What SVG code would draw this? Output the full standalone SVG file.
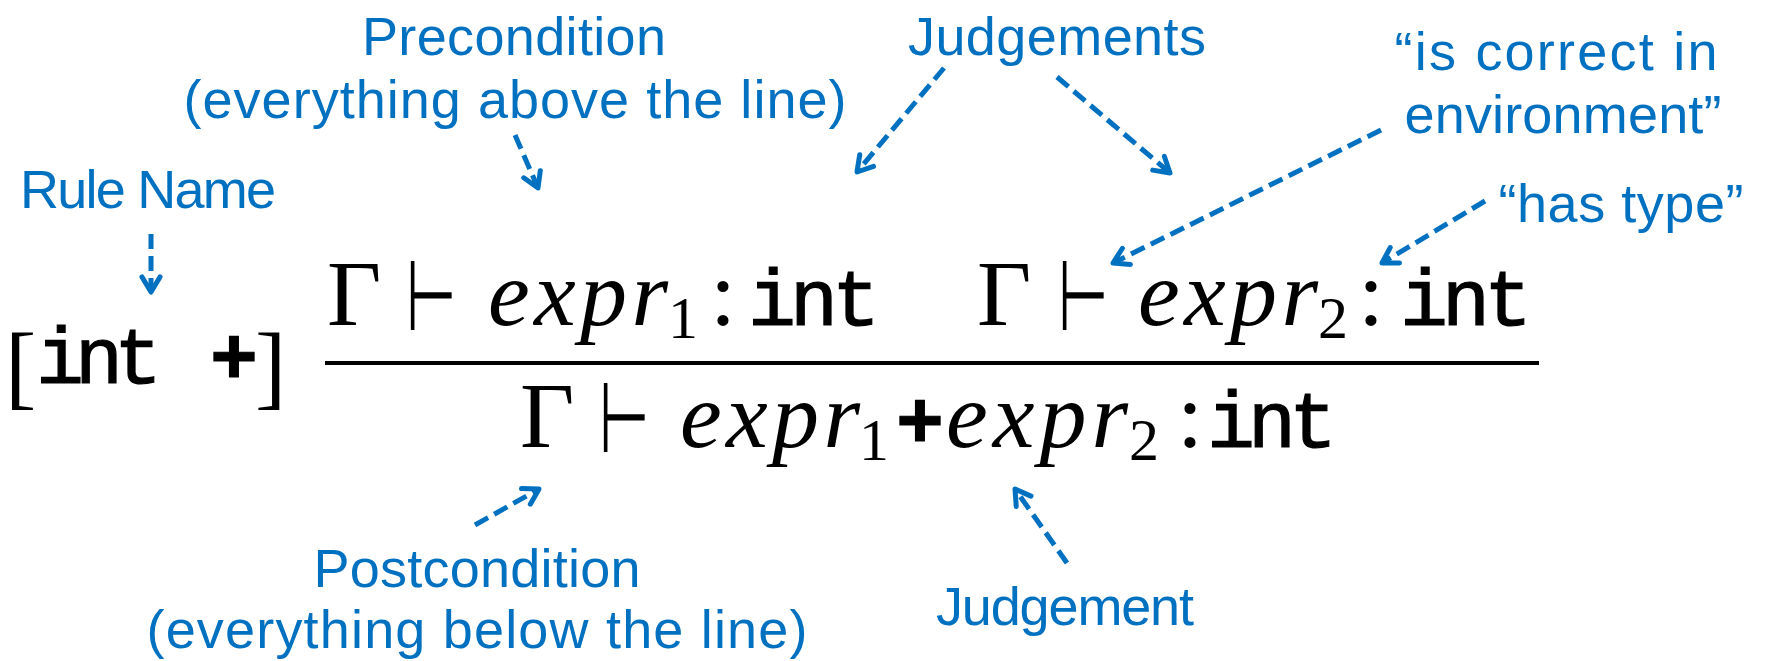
<svg xmlns="http://www.w3.org/2000/svg" width="1765" height="661" viewBox="0 0 1765 661">
<style>
.lbl{font-family:"Liberation Sans","DejaVu Sans",sans-serif;font-size:54px;fill:#0070C0;text-anchor:middle}
.m{font-family:"Liberation Serif","DejaVu Serif",serif;font-size:94px;fill:#000}
.mi{font-family:"Liberation Serif","DejaVu Serif",serif;font-size:94px;font-style:italic;fill:#000}
.sub{font-family:"Liberation Serif","DejaVu Serif",serif;font-size:60px;fill:#000}
.tt{font-family:"Liberation Mono","DejaVu Sans Mono",monospace;font-size:80px;fill:#000;stroke:#000;stroke-width:1.2}
.vd{font-family:"DejaVu Sans",sans-serif;font-size:94px;fill:#000}
.arr{stroke:#0070C0;stroke-width:5;fill:none;stroke-dasharray:15 7;marker-end:url(#ah)}
</style>
<defs>
<marker id="ah" markerUnits="userSpaceOnUse" orient="auto" markerWidth="40" markerHeight="40" refX="0" refY="0" viewBox="-20 -20 40 40" overflow="visible">
<path d="M-15,-9 L0,0 L-15,9" fill="none" stroke="#0070C0" stroke-width="5" stroke-dasharray="none" stroke-linejoin="round" stroke-linecap="round"/>
</marker>
</defs>
<rect width="1765" height="661" fill="#fff"/>
<g id="rule-name-math">
<text class="m" x="5" y="398" font-size="106">[</text>
<text class="tt" x="36" y="383" textLength="126">int</text>
<text class="tt" x="210" y="383" font-weight="bold">+</text>
<text class="m" x="255" y="398" font-size="106">]</text>
</g>
<g id="premise1">
<text class="m" x="327" y="325">Γ</text>
<text class="vd" transform="translate(406,330) scale(0.62,1.05)">⊢</text>
<text class="mi" x="488" y="325" textLength="180">expr</text>
<text class="sub" x="668" y="338">1</text>
<text class="m" x="710" y="325">:</text>
<text class="tt" x="748" y="325" textLength="132">int</text>
</g>
<g id="premise2">
<text class="m" x="977" y="325">Γ</text>
<text class="vd" transform="translate(1058,330) scale(0.62,1.05)">⊢</text>
<text class="mi" x="1138" y="325" textLength="180">expr</text>
<text class="sub" x="1318" y="338">2</text>
<text class="m" x="1358" y="325">:</text>
<text class="tt" x="1400" y="325" textLength="132">int</text>
</g>
<g id="fraction-line">
<line x1="325" y1="363" x2="1539" y2="363" stroke="#000" stroke-width="4"/>
</g>
<g id="conclusion">
<text class="m" x="520" y="447">Γ</text>
<text class="vd" transform="translate(599,452) scale(0.62,1.05)">⊢</text>
<text class="mi" x="680" y="447" textLength="180">expr</text>
<text class="sub" x="859" y="460">1</text>
<text class="tt" x="896" y="447" font-weight="bold">+</text>
<text class="mi" x="946" y="447" textLength="182">expr</text>
<text class="sub" x="1129" y="460">2</text>
<text class="m" x="1177" y="447">:</text>
<text class="tt" x="1207" y="447" textLength="130">int</text>
</g>
<g id="precondition">
<text class="lbl" x="514" y="55" textLength="304">Precondition</text>
<text class="lbl" x="515" y="118" textLength="663">(everything above the line)</text>
</g>
<g id="rule-name"><text class="lbl" x="148" y="208" textLength="256">Rule Name</text></g>
<g id="judgements"><text class="lbl" x="1057" y="55" textLength="298">Judgements</text></g>
<g id="is-correct">
<text class="lbl" x="1556" y="70" textLength="323">“is correct in</text>
<text class="lbl" x="1563" y="133" textLength="317">environment”</text>
</g>
<g id="has-type"><text class="lbl" x="1621" y="222" textLength="245">“has type”</text></g>
<g id="postcondition">
<text class="lbl" x="477" y="587" textLength="327">Postcondition</text>
<text class="lbl" x="477" y="648" textLength="661">(everything below the line)</text>
</g>
<g id="judgement"><text class="lbl" x="1065" y="625" textLength="258">Judgement</text></g>
<g id="connectors">
<path class="arr" d="M151,234 L151,292"/>
<path class="arr" d="M515,135 L538,188"/>
<path class="arr" d="M944,68 L857,172"/>
<path class="arr" d="M1057,77 L1170,173"/>
<path class="arr" d="M1381,130 L1113,263"/>
<path class="arr" d="M1485,201 L1382,263"/>
<path class="arr" d="M475,525 L539,489"/>
<path class="arr" d="M1067,563 L1015,489"/>
</g>
</svg>
